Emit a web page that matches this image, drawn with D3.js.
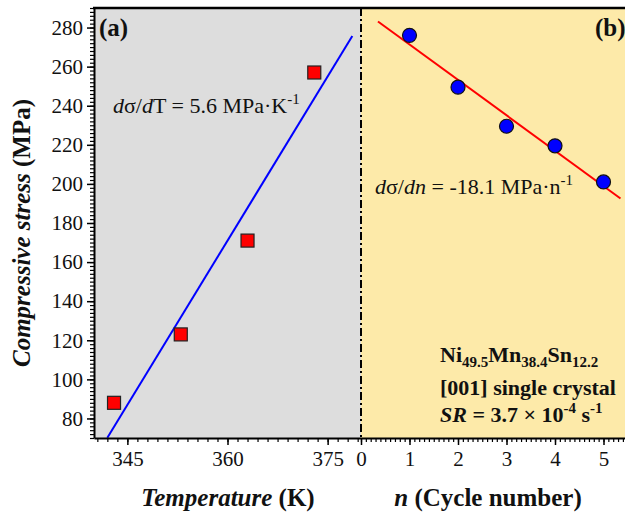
<!DOCTYPE html>
<html>
<head>
<meta charset="utf-8">
<script src="https://cdn.jsdelivr.net/npm/d3@7/dist/d3.min.js"></script>
</head>
<body style="margin:0">
<svg id="chart" width="625" height="519" style="display:block"></svg>
<script>
// Panel (a): critical stress vs. test temperature
const temperatures = [343, 353, 363, 373];
const stressVsT = [88, 123, 171, 257];
const slopeT = 5.6;           // MPa/K
const fitRangeT = [342, 378.7];

// Panel (b): critical stress vs. cycle number
const cycles = [1, 2, 3, 4, 5];
const stressVsN = [276, 249.5, 229.5, 219.5, 201];
const slopeN = -18.1;         // MPa per cycle
const fitRangeN = [0.35, 5.35];

const tickT = [345, 360, 375];
const tickN = [0, 1, 2, 3, 4, 5];
const tickS = [80, 100, 120, 140, 160, 180, 200, 220, 240, 260, 280];

const FONT = '"Liberation Serif"';

const svg = d3.select("#chart");

const plotTop = 8, plotBottom = 438, plotLeft = 94, plotMid = 361, plotRight = 627.75;

const y = d3.scaleLinear().domain([70, 290]).range([plotBottom, plotTop]);
const xT = d3.scaleLinear().domain([340, 380]).range([plotLeft, plotMid]);
const xN = d3.scaleLinear().domain([0, 5.5]).range([plotMid, plotRight]);

// panel backgrounds
svg.append("rect").attr("x", plotLeft).attr("y", plotTop).attr("width", plotMid - plotLeft).attr("height", plotBottom - plotTop).attr("fill", "#dddddd");
svg.append("rect").attr("x", plotMid).attr("y", plotTop).attr("width", plotRight - plotMid).attr("height", plotBottom - plotTop).attr("fill", "#fdeaa9");

// fitted line through the centroid with the stated slope
function fitLine(xs, ys, slope, range) {
  const mx = d3.mean(xs), my = d3.mean(ys);
  return range.map(v => [v, my + slope * (v - mx)]);
}

const lineA = d3.line().x(d => xT(d[0])).y(d => y(d[1]));
const lineB = d3.line().x(d => xN(d[0])).y(d => y(d[1]));

svg.append("path").datum(fitLine(temperatures, stressVsT, slopeT, fitRangeT))
  .attr("d", lineA).attr("fill", "none").attr("stroke", "#0000ff").attr("stroke-width", 2);

svg.append("path").datum(fitLine(cycles, stressVsN, slopeN, fitRangeN))
  .attr("d", lineB).attr("fill", "none").attr("stroke", "#ff0000").attr("stroke-width", 2);

// markers
const sq = 13;
svg.append("g").selectAll("rect").data(temperatures).join("rect")
  .attr("x", (d) => xT(d) - sq / 2)
  .attr("y", (d, i) => y(stressVsT[i]) - sq / 2)
  .attr("width", sq).attr("height", sq)
  .attr("fill", "#ff0000").attr("stroke", "#222").attr("stroke-width", 1.2);

svg.append("g").selectAll("circle").data(cycles).join("circle")
  .attr("cx", d => xN(d))
  .attr("cy", (d, i) => y(stressVsN[i]))
  .attr("r", 7)
  .attr("fill", "#0000ff").attr("stroke", "#111").attr("stroke-width", 1.2);

// divider between panels
svg.append("line").attr("x1", plotMid).attr("x2", plotMid).attr("y1", plotTop).attr("y2", plotBottom)
  .attr("stroke", "#000").attr("stroke-width", 2).attr("stroke-dasharray", "8,3,2,3");

// top frame
svg.append("line").attr("x1", plotLeft - 1).attr("x2", 625).attr("y1", plotTop).attr("y2", plotTop)
  .attr("stroke", "#000").attr("stroke-width", 2.5);

// axes
function styleAxis(g) {
  g.attr("font-family", null);
  g.select(".domain").attr("stroke", "#000").attr("stroke-width", 2);
  g.selectAll(".tick line").attr("stroke", "#000").attr("stroke-width", 1.5);
  g.selectAll(".tick text").style("font-family", FONT).attr("font-size", 21).attr("fill", "#111");
}

// minor ticks
const minorS = d3.range(70, 291, 2);
svg.append("g").attr("transform", `translate(${plotLeft},0)`)
  .call(d3.axisLeft(y).tickValues(minorS).tickSize(4).tickFormat("").tickSizeOuter(0))
  .call(g => { g.select(".domain").remove(); g.selectAll("line").attr("stroke", "#000").attr("stroke-width", 1.2); });

const minorT = d3.range(340.5, 380, 1.5);
svg.append("g").attr("transform", `translate(0,${plotBottom})`)
  .call(d3.axisBottom(xT).tickValues(minorT).tickSize(4).tickFormat("").tickSizeOuter(0))
  .call(g => { g.select(".domain").remove(); g.selectAll("line").attr("stroke", "#000").attr("stroke-width", 1.2); });

const minorN = d3.range(0, 5.51, 0.1);
svg.append("g").attr("transform", `translate(0,${plotBottom})`)
  .call(d3.axisBottom(xN).tickValues(minorN).tickSize(4).tickFormat("").tickSizeOuter(0))
  .call(g => { g.select(".domain").remove(); g.selectAll("line").attr("stroke", "#000").attr("stroke-width", 1.2); });

// major axes
svg.append("g").attr("transform", `translate(${plotLeft},0)`)
  .call(d3.axisLeft(y).tickValues(tickS).tickSize(7).tickPadding(4).tickSizeOuter(0))
  .call(styleAxis);

svg.append("g").attr("transform", `translate(0,${plotBottom})`)
  .call(d3.axisBottom(xT).tickValues(tickT).tickSize(7).tickPadding(6).tickSizeOuter(0))
  .call(styleAxis);

svg.append("g").attr("transform", `translate(0,${plotBottom})`)
  .call(d3.axisBottom(xN).tickValues(tickN).tickFormat(d3.format("d")).tickSize(7).tickPadding(6).tickSizeOuter(0))
  .call(styleAxis);

// helper for styled text
function label(x, yy, size, weight) {
  return svg.append("text").attr("x", x).attr("y", yy)
    .style("font-family", FONT).attr("font-size", size)
    .attr("font-weight", weight).attr("fill", "#111");
}

// axis titles
const yTitle = svg.append("text")
  .attr("transform", `translate(30,${(plotTop + plotBottom) / 2 + 10}) rotate(-90)`)
  .style("font-family", FONT)
  .attr("text-anchor", "middle").attr("font-size", 25).attr("font-weight", "bold").attr("fill", "#111");
yTitle.append("tspan").attr("font-style", "italic").text("Compressive stress");
yTitle.append("tspan").text(" (MPa)");

const xTitleA = label(228, 506, 25, "bold").attr("text-anchor", "middle");
xTitleA.append("tspan").attr("font-style", "italic").text("Temperature");
xTitleA.append("tspan").text(" (K)");

const xTitleB = label(488, 506, 25, "bold").attr("text-anchor", "middle");
xTitleB.append("tspan").attr("font-style", "italic").text("n");
xTitleB.append("tspan").text(" (Cycle number)");

// panel labels
label(99, 36, 25, "bold").text("(a)");
label(595, 36, 25, "bold").text("(b)");

// slope annotations
const annA = label(113, 113, 22, "normal");
annA.append("tspan").attr("font-style", "italic").text("d");
annA.append("tspan").text("σ/");
annA.append("tspan").attr("font-style", "italic").text("d");
annA.append("tspan").text("T = 5.6 MPa·K");
annA.append("tspan").attr("dy", -9).attr("font-size", 15).text("-1");

const annB = label(375, 194, 22, "normal");
annB.append("tspan").attr("font-style", "italic").text("d");
annB.append("tspan").text("σ/");
annB.append("tspan").attr("font-style", "italic").text("dn");
annB.append("tspan").text(" = -18.1 MPa·n");
annB.append("tspan").attr("dy", -9).attr("font-size", 15).text("-1");

// sample description
const l1 = label(440, 362, 22, "bold");
l1.append("tspan").text("Ni");
l1.append("tspan").attr("dy", 5).attr("font-size", 15).text("49.5");
l1.append("tspan").attr("dy", -5).text("Mn");
l1.append("tspan").attr("dy", 5).attr("font-size", 15).text("38.4");
l1.append("tspan").attr("dy", -5).text("Sn");
l1.append("tspan").attr("dy", 5).attr("font-size", 15).text("12.2");
label(440, 395, 22, "bold").text("[001] single crystal");
const l3 = label(440, 422, 22, "bold");
l3.append("tspan").attr("font-style", "italic").text("SR");
l3.append("tspan").text(" = 3.7 × 10");
l3.append("tspan").attr("dy", -9).attr("font-size", 15).text("-4");
l3.append("tspan").attr("dy", 9).text(" s");
l3.append("tspan").attr("dy", -9).attr("font-size", 15).text("-1");
</script>
</body>
</html>
